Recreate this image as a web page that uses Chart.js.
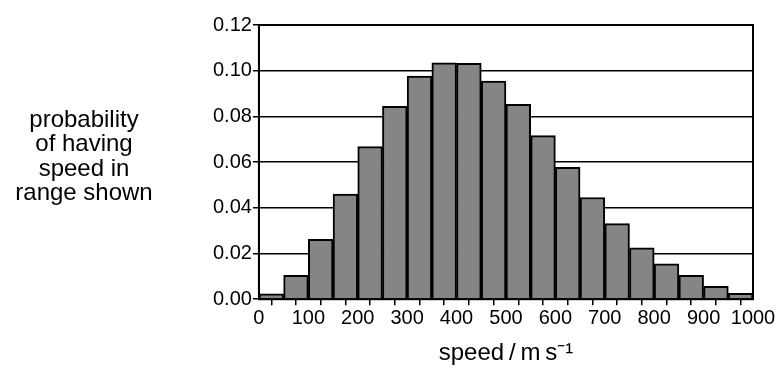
<!DOCTYPE html>
<html>
<head>
<meta charset="utf-8">
<script src="https://cdn.jsdelivr.net/npm/chart.js@4/dist/chart.umd.min.js"></script>
<style>
  html, body { margin: 0; padding: 0; background: #fff; }
  #wrap { width: 779px; height: 372px; }
</style>
</head>
<body>
<div id="wrap"><canvas id="chart" width="779" height="372"></canvas></div>
<script>
// bin centres (m/s), each bin is 50 wide
const binCentres = [25, 75, 125, 175, 225, 275, 325, 375, 425, 475,
                    525, 575, 625, 675, 725, 775, 825, 875, 925, 975];
const probabilities = [0.0023, 0.0105, 0.0262, 0.046, 0.0668, 0.0844, 0.0977, 0.1034, 0.1032, 0.0955,
                       0.0853, 0.0716, 0.0577, 0.0445, 0.0331, 0.0225, 0.0155, 0.0104, 0.0056, 0.0026];
const yTitleLines = ['probability', 'of having', 'speed in', 'range shown'];
const xTitle = 'speed\u2009/\u2009m\u2009s\u207B\u00B9';

const FONT = '"Liberation Sans", Arial, Helvetica, sans-serif';

const framePlugin = {
    id: 'frame',
    afterDatasetsDraw(chart) {
        const { ctx, chartArea } = chart;
        ctx.save();
        ctx.strokeStyle = '#000';
        ctx.lineWidth = 2;
        ctx.strokeRect(chartArea.left, chartArea.top, chartArea.right - chartArea.left, chartArea.bottom - chartArea.top);
        ctx.restore();
    }
};

const sideTitlePlugin = {
    id: 'sideTitle',
    afterDraw(chart) {
        const ctx = chart.ctx;
        ctx.save();
        ctx.fillStyle = '#000';
        ctx.font = '24px ' + FONT;
        ctx.textAlign = 'center';
        ctx.textBaseline = 'middle';
        yTitleLines.forEach((line, i) => {
            ctx.fillText(line, 84, 120 + i * 24.5);
        });
        ctx.restore();
    }
};

const ctx = document.getElementById('chart').getContext('2d');
new Chart(ctx, {
    type: 'bar',
    data: {
        datasets: [{
            data: binCentres.map((x, i) => ({ x: x, y: probabilities[i] })),
            backgroundColor: '#858585',
            borderColor: '#000',
            borderWidth: 2,
            barPercentage: 1,
            categoryPercentage: 1
        }]
    },
    options: {
        responsive: false,
        animation: false,
        layout: { padding: { left: 212, top: 25, right: 26, bottom: 4 } },
        plugins: {
            legend: { display: false },
            tooltip: { enabled: false }
        },
        scales: {
            x: {
                type: 'linear',
                offset: false,
                min: 0,
                max: 1000,
                grid: { display: true, drawOnChartArea: false, drawTicks: true, tickLength: 6, color: '#000', lineWidth: 1.5 },
                border: { display: true, color: '#000', width: 2 },
                ticks: {
                    stepSize: 50,
                    autoSkip: false,
                    maxRotation: 0,
                    padding: 1,
                    color: '#000',
                    font: { family: FONT, size: 20 },
                    callback: v => (v % 100 === 0 ? String(v) : '')
                },
                title: {
                    display: true,
                    text: xTitle,
                    color: '#000',
                    font: { family: FONT, size: 24 },
                    padding: { top: 8, bottom: 0 }
                }
            },
            y: {
                min: 0,
                max: 0.12,
                grid: { display: true, color: '#000', lineWidth: 1.5, tickLength: 6 },
                border: { display: true, color: '#000', width: 2 },
                ticks: {
                    stepSize: 0.02,
                    padding: 1,
                    color: '#000',
                    font: { family: FONT, size: 20 },
                    callback: v => v.toFixed(2)
                }
            }
        }
    },
    plugins: [framePlugin, sideTitlePlugin]
});
</script>
</body>
</html>
